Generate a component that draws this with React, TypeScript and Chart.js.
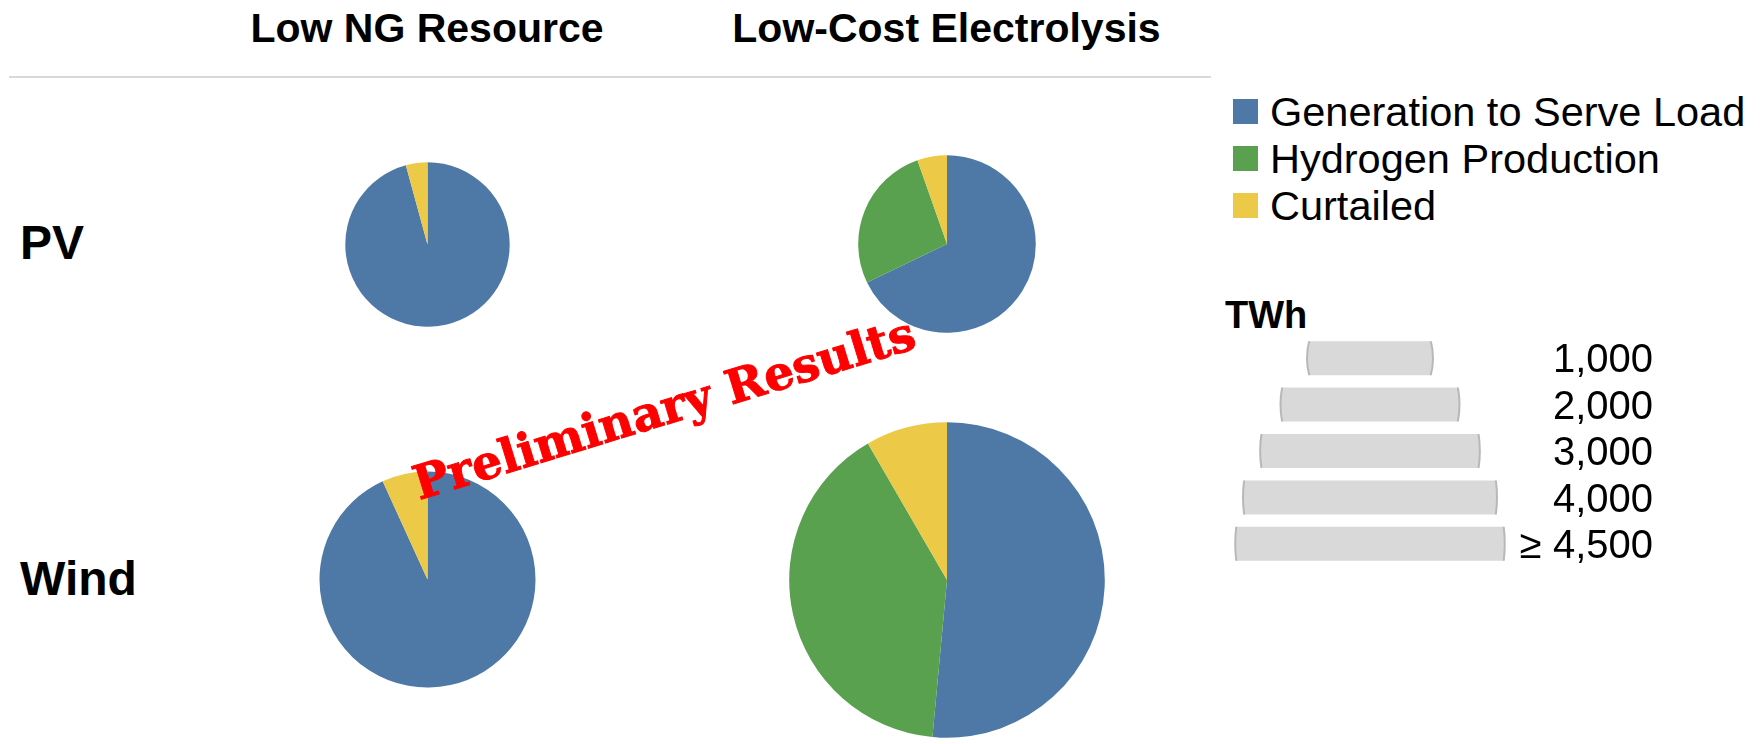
import React, { useEffect, useRef } from 'react';
import { Chart, registerables } from 'chart.js';

Chart.register(...registerables);

// ---------------- Data ----------------
const columnTitles = ['Low NG Resource', 'Low-Cost Electrolysis'];
const rowLabels = ['PV', 'Wind'];
const seriesNames = ['Generation to Serve Load', 'Hydrogen Production', 'Curtailed'];
const seriesColors = ['#4E79A7', '#59A14F', '#EDC948'];

// TWh by series: [generation to serve load, hydrogen production, curtailed]
const pvLowNG = [1580, 0, 70];
const pvLowCostElectrolysis = [1306, 515, 104];
const windLowNG = [2654, 0, 194];
const windLowCostElectrolysis = [3129, 2442, 508];

const sizeLegendTitle = 'TWh';
const sizeLegendValues = [1000, 2000, 3000, 4000, 4500];
const sizeLegendLabels = ['1,000', '2,000', '3,000', '4,000', '≥ 4,500'];
const watermarkText = 'Preliminary Results';

// ---------------- Layout / style ----------------
const W = 1763;
const H = 744;
const RADIUS_PER_SQRT_KTWH = 64; // px radius for 1,000 TWh
const colCenters = [427, 946.5];
const rowCenters = [244, 579.5];
const SANS = '"Liberation Sans", Arial, sans-serif';
const SERIF = '"DejaVu Serif", "Liberation Serif", serif';

const pieGrid = [
  [pvLowNG, pvLowCostElectrolysis],
  [windLowNG, windLowCostElectrolysis],
];

function radiusFor(total: number) {
  return RADIUS_PER_SQRT_KTWH * Math.sqrt(total / 1000);
}

type TextProps = {
  x: number;
  baseline: number;
  size: number;
  bold?: boolean;
  align?: 'left' | 'center' | 'right';
  family?: string;
  color?: string;
  children: React.ReactNode;
};

function Text({ x, baseline, size, bold, align = 'left', family = SANS, color = '#000', children }: TextProps) {
  const boxW = 1000;
  const left = align === 'left' ? x : align === 'right' ? x - boxW : x - boxW / 2;
  const top = baseline - size * 0.8465;
  return (
    <div
      style={{
        position: 'absolute',
        left,
        top,
        width: boxW,
        textAlign: align,
        fontFamily: family,
        fontWeight: bold ? 700 : 400,
        fontSize: size,
        lineHeight: `${size}px`,
        color,
        whiteSpace: 'nowrap',
      }}
    >
      {children}
    </div>
  );
}

function Pie({ values, cx, cy }: { values: number[]; cx: number; cy: number }) {
  const ref = useRef<HTMLCanvasElement | null>(null);
  const total = values.reduce((a, b) => a + b, 0);
  const r = radiusFor(total);
  const size = Math.ceil(2 * r + 4);
  useEffect(() => {
    if (!ref.current) return;
    const chart = new Chart(ref.current, {
      type: 'pie',
      data: {
        labels: seriesNames,
        datasets: [
          {
            data: values,
            backgroundColor: seriesColors,
            borderWidth: 0,
          },
        ],
      },
      options: {
        responsive: false,
        animation: false,
        devicePixelRatio: 1,
        radius: r,
        layout: { padding: 0 },
        plugins: { legend: { display: false }, tooltip: { enabled: false } },
      } as any,
    });
    return () => chart.destroy();
  }, []);
  return (
    <canvas
      ref={ref}
      width={size}
      height={size}
      style={{ position: 'absolute', left: cx - size / 2, top: cy - size / 2, width: size, height: size }}
    />
  );
}

const SIZE_LEGEND_CX = 1369.5;
const SIZE_LEGEND_FIRST_Y = 358;
const SIZE_LEGEND_STEP = 46.5;
const SIZE_LEGEND_W = 300;

function SizeLegend() {
  const ref = useRef<HTMLCanvasElement | null>(null);
  const h = SIZE_LEGEND_STEP * sizeLegendValues.length;
  const top = SIZE_LEGEND_FIRST_Y - SIZE_LEGEND_STEP / 2;
  const M = SIZE_LEGEND_W / (2 * RADIUS_PER_SQRT_KTWH);
  useEffect(() => {
    if (!ref.current) return;
    const roundEnds = {
      id: 'roundEnds',
      afterDatasetsDraw(chart: any) {
        const ctx = chart.ctx;
        const meta = chart.getDatasetMeta(0);
        meta.data.forEach((el: any) => {
          const { x, y, base, height } = el.getProps(['x', 'y', 'base', 'height'], true);
          const l = Math.min(x, base);
          const rgt = Math.max(x, base);
          const rr = (rgt - l) / 2;
          const ccx = (l + rgt) / 2;
          ctx.save();
          ctx.beginPath();
          ctx.rect(l - 6, y - height / 2, rgt - l + 12, height);
          ctx.clip();
          ctx.beginPath();
          ctx.arc(ccx, y, rr - 1, 0, Math.PI * 2);
          ctx.fillStyle = '#D9D9D9';
          ctx.fill();
          ctx.lineWidth = 2;
          ctx.strokeStyle = '#B8B8B8';
          ctx.stroke();
          ctx.restore();
        });
      },
    };
    const chart = new Chart(ref.current, {
      type: 'bar',
      data: {
        labels: sizeLegendLabels,
        datasets: [
          {
            data: sizeLegendValues.map((v) => [-Math.sqrt(v / 1000), Math.sqrt(v / 1000)]) as any,
            backgroundColor: 'rgba(0,0,0,0)',
            borderWidth: 0,
            barThickness: 34,
          },
        ],
      },
      options: {
        indexAxis: 'y',
        responsive: false,
        animation: false,
        devicePixelRatio: 1,
        layout: { padding: 0 },
        scales: {
          x: { type: 'linear', min: -M, max: M, display: false },
          y: { display: false, offset: true },
        },
        plugins: { legend: { display: false }, tooltip: { enabled: false } },
      } as any,
      plugins: [roundEnds],
    });
    return () => chart.destroy();
  }, []);
  return (
    <canvas
      ref={ref}
      width={SIZE_LEGEND_W}
      height={h}
      style={{
        position: 'absolute',
        left: SIZE_LEGEND_CX - SIZE_LEGEND_W / 2,
        top,
        width: SIZE_LEGEND_W,
        height: h,
      }}
    />
  );
}

export default function App() {
  return (
    <div
      style={{
        position: 'absolute',
        left: 0,
        top: 0,
        width: W,
        height: H,
        background: '#fff',
        overflow: 'hidden',
      }}
    >
      {/* Column titles */}
      {columnTitles.map((t, i) => (
        <Text key={t} x={colCenters[i]} baseline={43} size={41} bold align="center">
          {t}
        </Text>
      ))}
      {/* Rule under titles */}
      <div style={{ position: 'absolute', left: 9, top: 76, width: 1202, height: 2, background: '#D9D9D9' }} />

      {/* Row labels */}
      {rowLabels.map((t, i) => (
        <Text key={t} x={20} baseline={rowCenters[i] + 16} size={48} bold>
          {t}
        </Text>
      ))}

      {/* Pies */}
      {pieGrid.map((row, ri) =>
        row.map((vals, ci) => <Pie key={`${ri}-${ci}`} values={vals} cx={colCenters[ci]} cy={rowCenters[ri]} />)
      )}

      {/* Color legend */}
      {seriesNames.map((name, i) => {
        const cy = 111.5 + i * 47;
        return (
          <React.Fragment key={name}>
            <div
              style={{
                position: 'absolute',
                left: 1233,
                top: cy - 12.5,
                width: 25,
                height: 25,
                background: seriesColors[i],
              }}
            />
            <Text x={1270} baseline={cy + 14.8} size={41.5}>
              {name}
            </Text>
          </React.Fragment>
        );
      })}

      {/* Size legend */}
      <Text x={1225} baseline={328} size={38} bold>
        {sizeLegendTitle}
      </Text>
      <SizeLegend />
      {sizeLegendLabels.map((lab, i) => (
        <Text key={lab} x={1653} baseline={SIZE_LEGEND_FIRST_Y + i * SIZE_LEGEND_STEP + 14.3} size={40} align="right">
          {lab}
        </Text>
      ))}

      {/* Watermark */}
      <div
        style={{
          position: 'absolute',
          left: 664,
          top: 408,
          transform: 'translate(-50%, -50%) rotate(-17deg)',
          fontFamily: SERIF,
          fontWeight: 700,
          fontSize: 47,
          lineHeight: '47px',
          color: '#FF0000',
          WebkitTextStroke: '1px #FF0000',
          whiteSpace: 'nowrap',
          zIndex: 5,
        }}
      >
        {watermarkText}
      </div>
    </div>
  );
}
